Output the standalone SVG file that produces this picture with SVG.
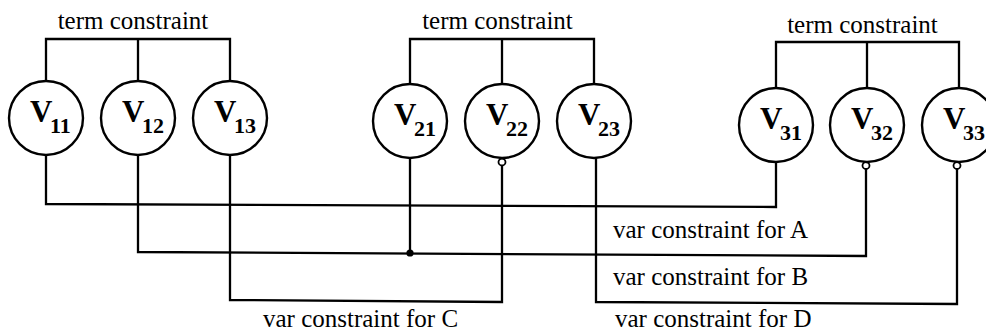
<svg xmlns="http://www.w3.org/2000/svg" width="986" height="333" viewBox="0 0 986 333">
<style>
  .node circle.big { fill: #fff; stroke: #000; stroke-width: 2.4; }
  .v { font-family: "Liberation Serif", "Times New Roman", serif; font-weight: bold; font-size: 31px; fill: #000; }
  .sub { font-family: "Liberation Serif", "Times New Roman", serif; font-weight: bold; font-size: 22px; fill: #000; }
  .lbl { font-family: "Liberation Serif", "Times New Roman", serif; font-size: 25px; fill: #000; }
  .wire { fill: none; stroke: #000; stroke-width: 2.3; stroke-linejoin: miter; }
  .ring { fill: #fff; stroke: #000; stroke-width: 1.8; }
  .dot { fill: #000; }
</style>
<rect width="986" height="333" fill="#fff"/>

<g id="connectors">
  <!-- term constraint brackets -->
  <polyline class="wire" points="46,81 46,39 230,39 230,81"/>
  <line class="wire" x1="138" y1="39" x2="138" y2="81"/>
  <polyline class="wire" points="410,84 410,39 594,39 594,84"/>
  <line class="wire" x1="502" y1="39" x2="502" y2="84"/>
  <polyline class="wire" points="776,88 776,42 959,42 959,88"/>
  <line class="wire" x1="867" y1="42" x2="867" y2="88"/>
  <!-- var constraint for A -->
  <polyline class="wire" points="46,155 46,204 776,207 776,162"/>
  <!-- var constraint for B -->
  <polyline class="wire" points="138,155 138,252 866,256 866,169"/>
  <line class="wire" x1="410" y1="158" x2="410" y2="253"/>
  <circle class="dot" cx="410" cy="253" r="3.6"/>
  <!-- var constraint for C -->
  <polyline class="wire" points="230,155 230,300 502,302 502,165.5"/>
  <!-- var constraint for D -->
  <polyline class="wire" points="596,158 596,302 957,304 957,169"/>
  <!-- open ring terminals -->
  <circle class="ring" cx="502" cy="162" r="3.5"/>
  <circle class="ring" cx="866" cy="165.5" r="3.5"/>
  <circle class="ring" cx="957" cy="165.5" r="3.5"/>
  <!-- labels -->
  <text class="lbl" x="133" y="29" text-anchor="middle">term constraint</text>
  <text class="lbl" x="497.5" y="29" text-anchor="middle">term constraint</text>
  <text class="lbl" x="862.5" y="33" text-anchor="middle">term constraint</text>
  <text class="lbl" x="613" y="238">var constraint for A</text>
  <text class="lbl" x="613" y="285">var constraint for B</text>
  <text class="lbl" x="263" y="327">var constraint for C</text>
  <text class="lbl" x="615" y="327">var constraint for D</text>
</g>

<g id="V11" class="node" transform="translate(46,118)"><circle class="big" r="37"/><text class="v" x="-16" y="4">V</text><text class="sub" x="4" y="15">11</text></g>
<g id="V12" class="node" transform="translate(138,118)"><circle class="big" r="37"/><text class="v" x="-16" y="4">V</text><text class="sub" x="4" y="15">12</text></g>
<g id="V13" class="node" transform="translate(230,118)"><circle class="big" r="37"/><text class="v" x="-16" y="4">V</text><text class="sub" x="4" y="15">13</text></g>
<g id="V21" class="node" transform="translate(410,121)"><circle class="big" r="37"/><text class="v" x="-16" y="4">V</text><text class="sub" x="4" y="15">21</text></g>
<g id="V22" class="node" transform="translate(502,121)"><circle class="big" r="37"/><text class="v" x="-16" y="4">V</text><text class="sub" x="4" y="15">22</text></g>
<g id="V23" class="node" transform="translate(594,121)"><circle class="big" r="37"/><text class="v" x="-16" y="4">V</text><text class="sub" x="4" y="15">23</text></g>
<g id="V31" class="node" transform="translate(776,125)"><circle class="big" r="37"/><text class="v" x="-16" y="4">V</text><text class="sub" x="4" y="15">31</text></g>
<g id="V32" class="node" transform="translate(867,125)"><circle class="big" r="37"/><text class="v" x="-16" y="4">V</text><text class="sub" x="4" y="15">32</text></g>
<g id="V33" class="node" transform="translate(959,125)"><circle class="big" r="37"/><text class="v" x="-16" y="4">V</text><text class="sub" x="4" y="15">33</text></g>
</svg>
